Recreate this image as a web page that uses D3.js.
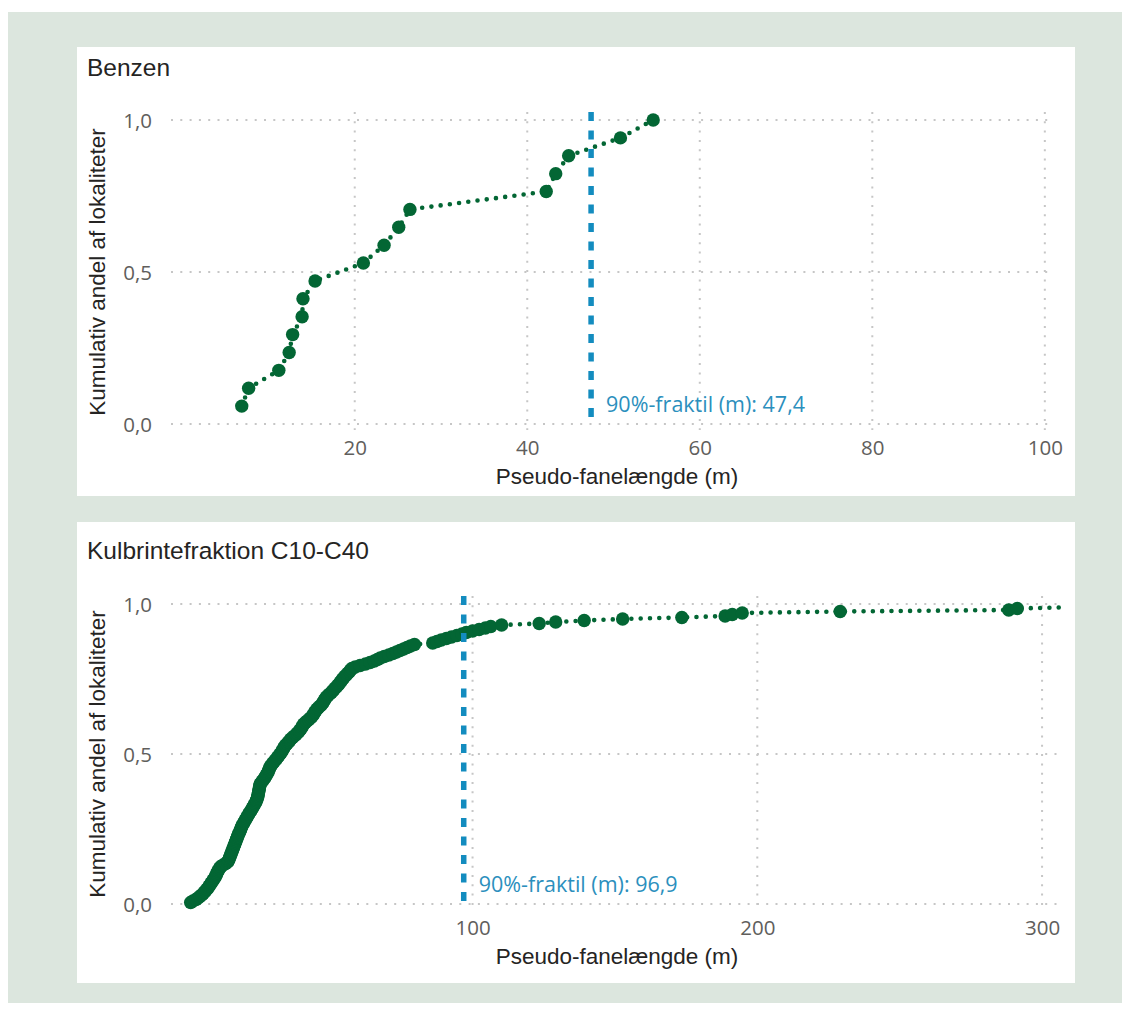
<!DOCTYPE html>
<html>
<head>
<meta charset="utf-8">
<script src="https://cdn.jsdelivr.net/npm/d3@7"></script>
<style>
  html, body { margin: 0; padding: 0; background: #ffffff; }
  svg { display: block; }
</style>
</head>
<body>
<script>
// ---- Data -------------------------------------------------------------
// Benzen: pseudo plume length (m) per site, sorted ascending
const benzenLengths = [6.9, 7.7, 11.2, 12.4, 12.8, 13.9, 14.0, 15.4, 21.0, 23.4,
  25.1, 26.4, 42.2, 43.3, 44.8, 50.8, 54.6];

// Kulbrintefraktion C10-C40: pseudo plume length (m) per site, sorted ascending
const c10c40Lengths = [
  1.0, 1.8, 2.9, 3.6, 4.2, 4.9, 5.4, 5.9, 6.3, 6.8,
  7.2, 7.5, 7.9, 8.2, 8.6, 8.9, 9.3, 9.6, 9.9, 10.1,
  10.3, 10.6, 10.9, 11.2, 11.6, 12.4, 13.3, 14.0, 14.3, 14.5,
  14.7, 14.9, 15.1, 15.3, 15.5, 15.7, 15.9, 16.1, 16.3, 16.5,
  16.7, 16.9, 17.1, 17.3, 17.5, 17.7, 17.9, 18.2, 18.4, 18.6,
  18.8, 19.0, 19.3, 19.6, 19.9, 20.2, 20.5, 20.8, 21.1, 21.4,
  21.7, 22.1, 22.4, 22.7, 23.0, 23.3, 23.6, 23.9, 24.1, 24.3,
  24.5, 24.6, 24.7, 24.8, 24.9, 25.0, 25.1, 25.2, 25.3, 25.4,
  25.8, 26.2, 26.6, 27.0, 27.3, 27.6, 27.9, 28.2, 28.4, 28.6,
  28.8, 29.1, 29.5, 29.9, 30.3, 30.8, 31.2, 31.6, 32.0, 32.4,
  32.8, 33.1, 33.4, 33.7, 34.0, 34.4, 34.9, 35.4, 35.8, 36.2,
  36.8, 37.4, 38.0, 38.5, 39.0, 39.4, 39.8, 40.1, 40.4, 40.7,
  41.3, 41.9, 42.5, 43.1, 43.6, 44.0, 44.3, 44.6, 45.0, 45.4,
  45.9, 46.5, 47.0, 47.4, 47.7, 48.0, 48.3, 48.7, 49.2, 49.8,
  50.4, 50.9, 51.3, 51.8, 52.3, 52.8, 53.2, 53.6, 54.0, 54.4,
  54.8, 55.3, 55.8, 56.3, 56.8, 57.2, 57.6, 58.8, 60.5, 62.4,
  64.0, 65.5, 66.6, 67.6, 69.0, 70.6, 72.0, 73.3, 74.5, 75.8,
  77.0, 78.2, 79.6, 86.0, 87.5, 89.0, 90.8, 92.6, 94.5, 96.3,
  97.8, 100.0, 102.3, 104.5, 106.4, 110.2, 123.4, 129.2, 139.2, 152.7,
  173.5, 188.7, 191.2, 194.7, 229.1, 288.3, 291.3, 313, 340, 385
];

const chartTitles = ["Benzen", "Kulbrintefraktion C10-C40"];
const benzenTicks = [20, 40, 60, 80, 100];
const c10c40Ticks = [100, 200, 300];
const shareTicks = [0, 0.5, 1];
const quantile90 = [47.4, 96.9];
const xAxisTitle = "Pseudo-fanelængde (m)";
const yAxisTitle = "Kumulativ andel af lokaliteter";
const quantileLabel = "90%-fraktil (m): ";

// ---- Style ------------------------------------------------------------
const GREEN = "#036634";
const BLUE = "#138cbf";
const BLUE_TEXT = "#2b8fbd";
const GRID = "#c6c6c6";
const TICK_TEXT = "#605e5c";
const TITLE_TEXT = "#252423";
const SANS = "'Liberation Sans', Arial, sans-serif";
const UI = "'Open Sans', 'Liberation Sans', sans-serif";

const locale = d3.formatLocale({ decimal: ",", thousands: ".", grouping: [3], currency: ["", " kr."] });
const fmt1 = locale.format(".1f");

const svg = d3.select("body").append("svg")
  .attr("width", 1130).attr("height", 1010);

// outer frame
svg.append("rect").attr("x", 8).attr("y", 12).attr("width", 1114).attr("height", 991)
  .attr("fill", "#dce6de");

const panels = [
  {
    data: benzenLengths, ticks: benzenTicks, title: chartTitles[0], q: quantile90[0],
    box: { x: 77, y: 47, w: 998, h: 449 },
    xDomain: [-1.3, 100.6], xRange: [171, 1050],
    yRange: [424, 120], plotTop: 112, plotBottom: 430, titleY: 76
  },
  {
    data: c10c40Lengths, ticks: c10c40Ticks, title: chartTitles[1], q: quantile90[1],
    box: { x: 77, y: 522, w: 998, h: 461 },
    xDomain: [-5.9, 307], xRange: [171, 1062],
    yRange: [904, 604], plotTop: 596, plotBottom: 910, titleY: 559
  }
];

panels.forEach((p, k) => {
  const g = svg.append("g");
  g.append("rect").attr("x", p.box.x).attr("y", p.box.y)
    .attr("width", p.box.w).attr("height", p.box.h).attr("fill", "#ffffff");

  g.append("text").attr("x", 87).attr("y", p.titleY)
    .attr("font-family", SANS).attr("font-size", 24.5).attr("fill", TITLE_TEXT)
    .text(p.title);

  const x = d3.scaleLinear().domain(p.xDomain).range(p.xRange);
  const y = d3.scaleLinear().domain([0, 1]).range(p.yRange);
  const n = p.data.length;
  const pts = p.data.map((v, i) => ({ x: v, y: (i + 1) / n }));

  // gridlines
  const grid = g.append("g").attr("stroke", GRID).attr("stroke-width", 2)
    .attr("stroke-dasharray", "2 7.3").attr("fill", "none");
  shareTicks.forEach(t => {
    grid.append("line").attr("x1", p.xRange[0]).attr("x2", p.xRange[1])
      .attr("y1", y(t)).attr("y2", y(t));
  });
  p.ticks.forEach(t => {
    grid.append("line").attr("x1", x(t)).attr("x2", x(t))
      .attr("y1", p.plotTop).attr("y2", p.plotBottom);
  });

  // axes (labels only)
  const xAxis = g.append("g").attr("transform", `translate(0,${p.yRange[0]})`)
    .call(d3.axisBottom(x).tickValues(p.ticks).tickSize(0).tickFormat(d3.format("d")));
  xAxis.select(".domain").remove();
  xAxis.selectAll("text").attr("y", 31).attr("dy", null)
    .attr("font-family", UI).attr("font-size", 20.5).attr("fill", TICK_TEXT);

  const yAxis = g.append("g").attr("transform", `translate(${p.xRange[0]},0)`)
    .call(d3.axisLeft(y).tickValues(shareTicks).tickSize(0).tickFormat(fmt1));
  yAxis.select(".domain").remove();
  yAxis.selectAll("text").attr("x", -19).attr("dy", "0.35em")
    .attr("font-family", UI).attr("font-size", 20.5).attr("fill", TICK_TEXT);

  // axis titles
  g.append("text").attr("x", 617).attr("y", p.yRange[0] + 60)
    .attr("text-anchor", "middle").attr("font-family", SANS).attr("font-size", 22.5)
    .attr("fill", TITLE_TEXT).text(xAxisTitle);
  g.append("text")
    .attr("transform", `translate(105,${(p.yRange[0] + p.yRange[1]) / 2}) rotate(-90)`)
    .attr("text-anchor", "middle").attr("font-family", SANS).attr("font-size", 22.5)
    .attr("fill", TITLE_TEXT).text(yAxisTitle);

  // plot clip
  const clipId = "plotclip" + k;
  g.append("clipPath").attr("id", clipId).append("rect")
    .attr("x", p.xRange[0]).attr("y", p.plotTop - 10)
    .attr("width", p.xRange[1] - p.xRange[0]).attr("height", p.plotBottom - p.plotTop + 20);

  const plot = g.append("g").attr("clip-path", `url(#${clipId})`);

  // cumulative curve: dotted connector + markers
  plot.append("path").datum(pts)
    .attr("d", d3.line().x(d => x(d.x)).y(d => y(d.y)))
    .attr("fill", "none").attr("stroke", GREEN).attr("stroke-width", 4.6)
    .attr("stroke-linecap", "round").attr("stroke-dasharray", "0 9.3");
  plot.selectAll("circle").data(pts).join("circle")
    .attr("cx", d => x(d.x)).attr("cy", d => y(d.y)).attr("r", 6.7)
    .attr("fill", GREEN);

  // 90% quantile marker
  g.append("line").attr("x1", x(p.q)).attr("x2", x(p.q))
    .attr("y1", p.plotTop).attr("y2", p.yRange[0] + 1)
    .attr("stroke", BLUE).attr("stroke-width", 5.5).attr("stroke-dasharray", "9 9.5");
  g.append("text").attr("x", x(p.q) + 15).attr("y", p.yRange[0] - 12)
    .attr("font-family", UI).attr("font-size", 21.5).attr("fill", BLUE_TEXT)
    .text(quantileLabel + fmt1(p.q));
});
</script>
</body>
</html>
